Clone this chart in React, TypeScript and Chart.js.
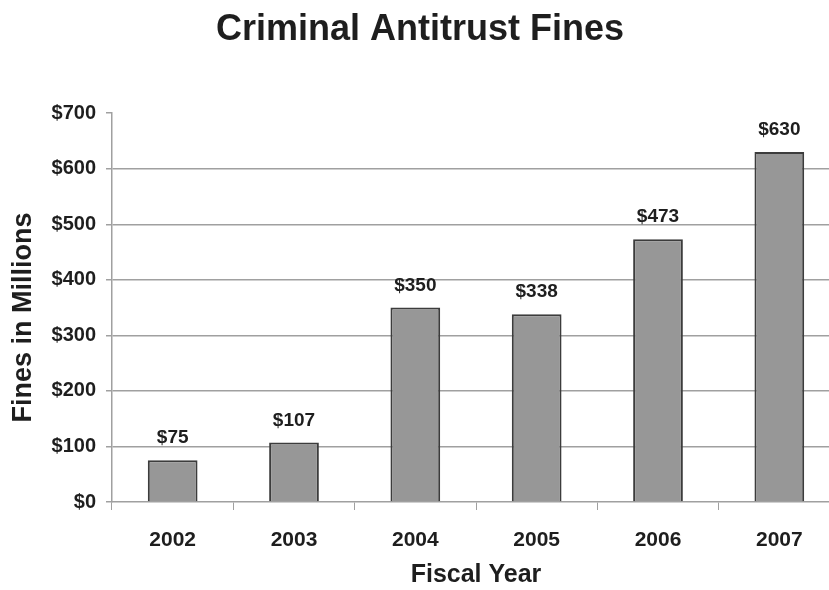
import React, { useEffect, useRef } from "react";
import { Chart, registerables } from "chart.js";

Chart.register(...registerables);

const categories = ["2002", "2003", "2004", "2005", "2006", "2007"];
const fines = [75, 107, 350, 338, 473, 630];
const valueLabels = ["$75", "$107", "$350", "$338", "$473", "$630"];
const yAxisTitle = "Fines in Millions";

const FONT = "'Liberation Sans', Arial, sans-serif";
const TEXT = "#1e1e1e";
const GRID = "#a0a0a0";

const labelPlugin = {
  id: "valueLabels",
  afterDatasetsDraw(chart: any) {
    const ctx = chart.ctx;
    const meta = chart.getDatasetMeta(0);
    ctx.save();
    ctx.font = `bold 19px ${FONT}`;
    ctx.fillStyle = TEXT;
    ctx.textAlign = "center";
    ctx.textBaseline = "alphabetic";
    meta.data.forEach((bar: any, i: number) => {
      ctx.fillText(valueLabels[i], bar.x, bar.y - 17);
    });
    // y-axis title, placed like the reference (slightly below the plot centre)
    const area = chart.chartArea;
    ctx.translate(24, (area.top + area.bottom) / 2 + 10);
    ctx.rotate(-Math.PI / 2);
    ctx.font = `bold 27px ${FONT}`;
    ctx.textBaseline = "middle";
    ctx.fillText(yAxisTitle, 0, 0);
    ctx.restore();
  },
};

export default function App() {
  const ref = useRef<HTMLCanvasElement>(null);

  useEffect(() => {
    document.body.style.margin = "0";
    document.body.style.overflow = "hidden";
    const chart = new Chart(ref.current!, {
      type: "bar",
      data: {
        labels: categories,
        datasets: [
          {
            data: fines,
            backgroundColor: "#979797",
            borderColor: "#3c3c3c",
            borderWidth: 2,
            categoryPercentage: 1,
            barPercentage: 0.41,
          },
        ],
      },
      options: {
        animation: false,
        responsive: false,
        devicePixelRatio: 1,
        layout: { padding: { left: 0, right: 0, top: 0, bottom: 0 } },
        plugins: {
          legend: { display: false },
          tooltip: { enabled: false },
          title: {
            display: true,
            text: "Criminal Antitrust Fines",
            color: TEXT,
            font: { family: FONT, size: 36, weight: "bold" },
            padding: { top: 8, bottom: 62 },
          },
        },
        scales: {
          x: {
            afterFit(scale: any) {
              scale.height = 88;
            },
            grid: {
              offset: true,
              drawOnChartArea: false,
              drawTicks: true,
              tickLength: 8,
              color: GRID,
            },
            border: { display: true, color: GRID, width: 1.5 },
            ticks: {
              color: TEXT,
              padding: 18,
              font: { family: FONT, size: 21, weight: "bold" },
            },
            title: {
              display: true,
              text: "Fiscal Year",
              color: TEXT,
              font: { family: FONT, size: 25, weight: "bold" },
              padding: { top: 0, bottom: 0 },
            },
          },
          y: {
            min: 0,
            max: 700,
            afterFit(scale: any) {
              scale.width = 112;
            },
            ticks: {
              stepSize: 100,
              color: TEXT,
              padding: 10,
              font: { family: FONT, size: 20, weight: "bold" },
              callback: (v: any) => "$" + v,
            },
            grid: {
              color: (c: any) =>
                c.tick && (c.tick.value === 700 || c.tick.value === 0) ? "rgba(0,0,0,0)" : GRID,
              tickColor: GRID,
              tickLength: 6,
              lineWidth: 1.5,
            },
            border: { display: true, color: GRID, width: 1.5 },
            title: { display: false },
          },
        },
      },
      plugins: [labelPlugin],
    });
    return () => chart.destroy();
  }, []);

  return (
    <div style={{ position: "fixed", left: 0, top: 0, width: 829, height: 590, overflow: "hidden", background: "#fff" }}>
      <canvas ref={ref} width={840} height={590} style={{ display: "block" }} />
    </div>
  );
}
